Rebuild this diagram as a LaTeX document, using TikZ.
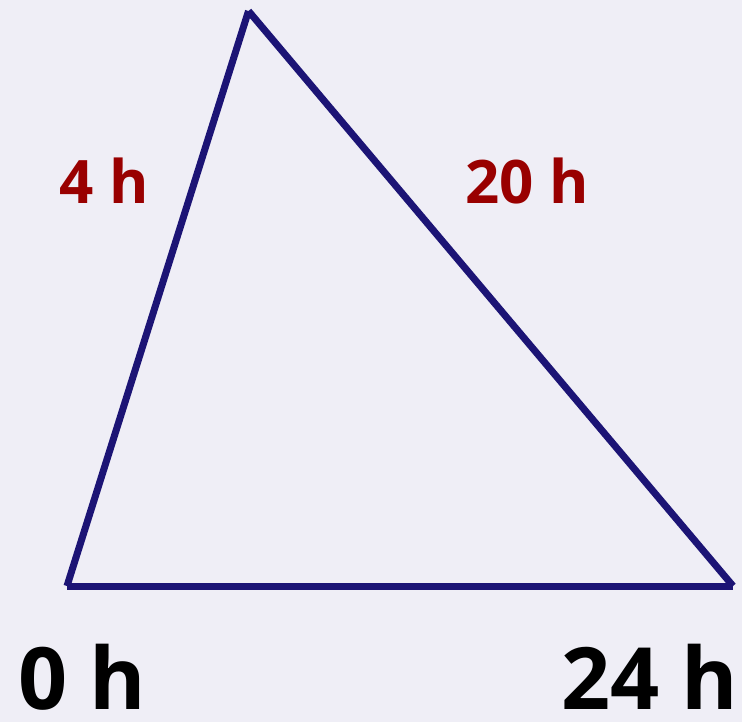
\documentclass[tikz,border=0pt]{standalone}
\usepackage{fontspec}
\setsansfont{Open Sans}
\usetikzlibrary{positioning}

\definecolor{bgcol}{HTML}{EFEEF6}
\definecolor{edgecol}{HTML}{1C1475}
\definecolor{durcol}{HTML}{990000}

\tikzset{
  side/.style={line width=7pt, edgecol, line cap=butt},
  duration/.style={inner sep=0pt, text=durcol, font=\sffamily\bfseries\fontsize{60}{60}\selectfont},
  clock/.style={inner sep=0pt, text=black, font=\sffamily\bfseries\fontsize{86}{86}\selectfont}
}

\begin{document}
\begin{tikzpicture}[x=1pt, y=-1pt]
    % Background
    \fill[bgcol] (0,0) rectangle (742,722);
    \useasboundingbox (0,0) rectangle (742,722);

    % Corners
    \coordinate (apex) at (248.5,11);
    \coordinate (start) at (67,586);
    \coordinate (finish) at (733,586);

    % Triangle sides
    \draw[side] (start) -- (apex);
    \draw[side] (apex) -- (finish);
    \draw[side] (start) -- (finish);

    % Durations
    \node[duration] (short) at (104,181) {4 h};
    \node[duration] (long) at (527,181) {20 h};

    % Clock times
    \node[clock] (zero) at (82,677) {0 h};
    \node[clock] (full) at (650,677) {24 h};
\end{tikzpicture}
\end{document}
